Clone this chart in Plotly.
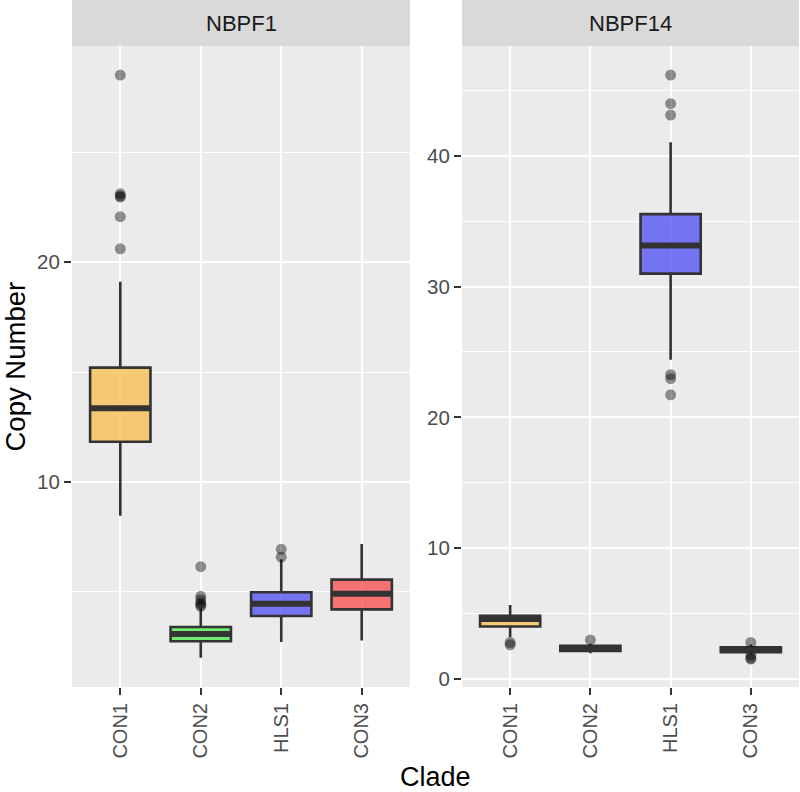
import plotly.graph_objects as go

# ---------------- data ----------------
clades = ["CON1", "CON2", "HLS1", "CON3"]
genes = ["NBPF1", "NBPF14"]

# NBPF1 box statistics per clade
nbpf1_lower = [8.47, 2.01, 2.73, 2.79]
nbpf1_q1 = [11.83, 2.76, 3.91, 4.21]
nbpf1_median = [13.35, 3.09, 4.47, 4.92]
nbpf1_q3 = [15.2, 3.41, 4.99, 5.56]
nbpf1_upper = [19.1, 4.25, 6.49, 7.18]
nbpf1_outliers = [
    [28.5, 23.1, 23.0, 22.95, 22.06, 20.6],
    [6.15, 4.8, 4.65, 4.5, 4.42, 4.35],
    [6.94, 6.58],
    [],
]

# NBPF14 box statistics per clade
nbpf14_lower = [3.2, 1.98, 24.4, 1.95]
nbpf14_q1 = [4.02, 2.16, 30.99, 2.06]
nbpf14_median = [4.6, 2.35, 33.13, 2.25]
nbpf14_q3 = [4.85, 2.54, 35.53, 2.44]
nbpf14_upper = [5.67, 2.7, 41.02, 2.65]
nbpf14_outliers = [
    [2.8, 2.62],
    [3.0],
    [46.16, 43.97, 43.1, 23.26, 22.96, 21.73],
    [2.8, 1.85, 1.6, 1.53],
]

# ---------------- styles ----------------
fills = {
    "CON1": "rgba(250,185,64,0.7)",
    "CON2": "rgba(62,234,62,0.7)",
    "HLS1": "rgba(66,64,244,0.7)",
    "CON3": "rgba(248,62,62,0.7)",
}
FONT = "Liberation Sans"
EDGE = "#333333"
W, H = 800, 792
L1, R1, L2, R2 = 72, 410, 462, 799
TOP, BOT = 46, 687

fig = go.Figure()

panels = [
    ("x", "y", nbpf1_lower, nbpf1_q1, nbpf1_median, nbpf1_q3, nbpf1_upper, nbpf1_outliers),
    ("x2", "y2", nbpf14_lower, nbpf14_q1, nbpf14_median, nbpf14_q3, nbpf14_upper, nbpf14_outliers),
]
shapes = []
for xa, ya, lo, q1, med, q3, up, outs in panels:
    for i, cl in enumerate(clades):
        fig.add_trace(go.Box(
            x=[cl], q1=[q1[i]], median=[med[i]], q3=[q3[i]],
            lowerfence=[lo[i]], upperfence=[up[i]],
            width=0.75, whiskerwidth=0, boxpoints=False,
            fillcolor=fills[cl], line=dict(color=EDGE, width=2.6),
            xaxis=xa, yaxis=ya, showlegend=False, hoverinfo="skip",
        ))
        shapes.append(dict(type="line", xref=xa, yref=ya,
                           x0=i - 0.375, x1=i + 0.375, y0=med[i], y1=med[i],
                           line=dict(color=EDGE, width=6)))
        if outs[i]:
            fig.add_trace(go.Scatter(
                x=[cl] * len(outs[i]), y=outs[i], mode="markers",
                marker=dict(color="rgba(0,0,0,0.42)", size=11, line=dict(width=0)),
                xaxis=xa, yaxis=ya, showlegend=False, hoverinfo="skip",
            ))

# strips
for (l, r) in [(L1, R1), (L2, R2)]:
    shapes.append(dict(type="rect", xref="paper", yref="paper", layer="below",
                       x0=l / W, x1=r / W, y0=(H - TOP) / H, y1=1.0,
                       fillcolor="#D9D9D9", line=dict(width=0)))

annotations = [
    dict(text=genes[0], x=(L1 + R1) / 2 / W, y=(H - 23) / H, xref="paper", yref="paper",
         showarrow=False, xanchor="center", yanchor="middle",
         font=dict(family=FONT, size=22, color="#1A1A1A")),
    dict(text=genes[1], x=(L2 + R2) / 2 / W, y=(H - 23) / H, xref="paper", yref="paper",
         showarrow=False, xanchor="center", yanchor="middle",
         font=dict(family=FONT, size=22, color="#1A1A1A")),
    dict(text="Copy Number", x=15 / W, y=(H - (TOP + BOT) / 2) / H, xref="paper", yref="paper",
         showarrow=False, textangle=-90, xanchor="center", yanchor="middle",
         font=dict(family=FONT, size=27.5, color="black")),
    dict(text="Clade", x=(L1 + R2) / 2 / W, y=(H - 777) / H, xref="paper", yref="paper",
         showarrow=False, xanchor="center", yanchor="middle",
         font=dict(family=FONT, size=27, color="black")),
]

xcommon = dict(type="category", categoryorder="array", categoryarray=clades,
               range=[-0.6, 3.6], showgrid=True, gridcolor="white", gridwidth=2.4,
               zeroline=False, showline=False, ticks="outside", ticklen=7, tickwidth=2.4,
               tickcolor=EDGE, tickangle=-90,
               tickfont=dict(family=FONT, size=20, color="#4D4D4D"))
ycommon = dict(showgrid=True, gridcolor="white", gridwidth=2.4, zeroline=False,
               showline=False, ticks="outside", ticklen=7, tickwidth=2.4, tickcolor=EDGE,
               tickfont=dict(family=FONT, size=20.5, color="#4D4D4D"),
               domain=[(H - BOT) / H, (H - TOP) / H])

xa1 = dict(xcommon); xa1.update(domain=[L1 / W, R1 / W], anchor="y")
xa2 = dict(xcommon); xa2.update(domain=[L2 / W, R2 / W], anchor="y2")
ya1 = dict(ycommon); ya1.update(anchor="x", range=[0.68, 29.82], tick0=0, dtick=10,
                                minor=dict(tick0=0, dtick=5, showgrid=True, gridcolor="white",
                                           gridwidth=1.2, ticks=""))
ya2 = dict(ycommon); ya2.update(anchor="x2", range=[-0.6, 48.38], tick0=0, dtick=10,
                                minor=dict(tick0=0, dtick=5, showgrid=True, gridcolor="white",
                                           gridwidth=1.2, ticks=""))

fig.update_layout(
    width=W, height=H, margin=dict(l=0, r=0, t=0, b=0, autoexpand=False),
    paper_bgcolor="white", plot_bgcolor="#EBEBEB",
    boxmode="overlay",
    xaxis=xa1, xaxis2=xa2, yaxis=ya1, yaxis2=ya2,
    shapes=shapes, annotations=annotations, showlegend=False,
)

fig.write_html("out.html", config={"displayModeBar": False},
               post_script="document.body.style.margin='0px';document.body.style.overflow='hidden';")
